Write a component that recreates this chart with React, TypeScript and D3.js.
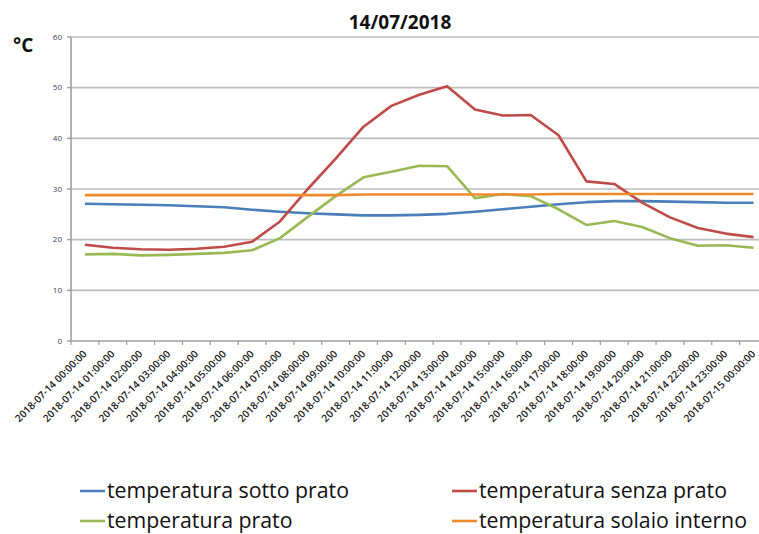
import React from "react";
import * as d3 from "d3";

const hours = d3.range(0, 25);
const categories = hours.map((h) =>
  h < 24
    ? `2018-07-14 ${String(h).padStart(2, "0")}:00:00`
    : `2018-07-15 00:00:00`
);

const sottoPrato = [27.1, 27.0, 26.9, 26.8, 26.6, 26.4, 25.9, 25.5, 25.2, 25.0, 24.8, 24.8, 24.9, 25.1, 25.5, 26.0, 26.5, 27.0, 27.4, 27.6, 27.6, 27.5, 27.4, 27.3, 27.3];
const senzaPrato = [19.0, 18.4, 18.1, 18.0, 18.2, 18.6, 19.6, 23.6, 30.0, 36.0, 42.3, 46.4, 48.6, 50.3, 45.7, 44.5, 44.6, 40.6, 31.5, 31.0, 27.3, 24.4, 22.3, 21.2, 20.5];
const prato = [17.1, 17.2, 16.9, 17.0, 17.2, 17.4, 17.9, 20.3, 24.5, 28.6, 32.3, 33.4, 34.6, 34.5, 28.2, 29.0, 28.6, 26.0, 22.9, 23.7, 22.5, 20.3, 18.8, 18.9, 18.4];
const solaioInterno = [28.8, 28.8, 28.8, 28.8, 28.8, 28.8, 28.8, 28.8, 28.8, 28.8, 28.9, 28.9, 28.9, 28.9, 28.9, 28.9, 28.9, 29.0, 29.0, 29.0, 29.0, 29.0, 29.0, 29.0, 29.0];

const yTicks = [0, 10, 20, 30, 40, 50, 60];

const seriesNames = [
  "temperatura sotto prato",
  "temperatura senza prato",
  "temperatura prato",
  "temperatura solaio interno",
];
const seriesColors = ["#4A7EBB", "#BE4B48", "#98B954", "#F08A2C"];
const seriesData = [sottoPrato, senzaPrato, prato, solaioInterno];

const W = 759;
const H = 534;
const left = 71;
const right = 767.5;
const top = 37;
const bottom = 341;

export default function App() {
  const x = d3.scaleBand<string>().domain(categories).range([left, right]);
  const y = d3.scaleLinear().domain([0, 60]).range([bottom, top]);
  const cx = (c: string) => (x(c) as number) + x.bandwidth() / 2;
  const line = d3
    .line<number>()
    .x((_, i) => cx(categories[i]))
    .y((d) => y(d));

  const tickXs = categories.map((c) => x(c) as number).concat([right]);

  const legendPos = [
    { lx: 80, ly: 491 },
    { lx: 452, ly: 491 },
    { lx: 80, ly: 521 },
    { lx: 452, ly: 521 },
  ];

  return (
    <svg
      width={W}
      height={H}
      style={{ position: "absolute", left: 0, top: 0, background: "#fff" }}
    >
      <rect x={0} y={0} width={W} height={H} fill="#fff" />
      {yTicks.slice(1).map((t) => (
        <line
          key={t}
          x1={left}
          x2={right}
          y1={y(t)}
          y2={y(t)}
          stroke="#BDBDBD"
          strokeWidth={1.6}
        />
      ))}
      <line x1={left} x2={left} y1={top} y2={bottom} stroke="#9E9E9E" strokeWidth={1.6} />
      <line x1={left} x2={right} y1={bottom} y2={bottom} stroke="#9E9E9E" strokeWidth={1.6} />
      {yTicks.map((t) => (
        <g key={t}>
          <line x1={left - 4} x2={left} y1={y(t)} y2={y(t)} stroke="#9E9E9E" strokeWidth={1.4} />
          <text
            x={left - 9}
            y={y(t)}
            dy="0.35em"
            textAnchor="end"
            fontFamily="Open Sans, sans-serif"
            fontSize={8}
            fill="#404050"
          >
            {t}
          </text>
        </g>
      ))}
      {tickXs.map((tx, i) => (
        <line key={i} x1={tx} x2={tx} y1={bottom} y2={bottom + 4} stroke="#9E9E9E" strokeWidth={1.2} />
      ))}
      {categories.map((c) => (
        <text
          key={c}
          transform={`translate(${cx(c)},${bottom + 11}) rotate(-45)`}
          textAnchor="end"
          dy="0.35em"
          fontFamily="Open Sans, sans-serif"
          fontSize={10.2}
          fontWeight={600}
          fill="#222"
        >
          {c}
        </text>
      ))}
      {seriesData.map((d, si) => (
        <path
          key={si}
          d={line(d) as string}
          fill="none"
          stroke={seriesColors[si]}
          strokeWidth={2.6}
          strokeLinejoin="round"
        />
      ))}
      <text
        x={400}
        y={29}
        textAnchor="middle"
        fontFamily="Open Sans, sans-serif"
        fontWeight={700}
        fontSize={19}
        fill="#111"
      >
        14/07/2018
      </text>
      <text
        x={13}
        y={52}
        fontFamily="Open Sans, sans-serif"
        fontWeight={700}
        fontSize={19}
        fill="#111"
      >
        °C
      </text>
      {seriesNames.map((n, i) => (
        <g key={n}>
          <line
            x1={legendPos[i].lx}
            x2={legendPos[i].lx + 25}
            y1={legendPos[i].ly}
            y2={legendPos[i].ly}
            stroke={seriesColors[i]}
            strokeWidth={2.6}
          />
          <text
            x={legendPos[i].lx + 27}
            y={legendPos[i].ly + 7}
            fontFamily="Open Sans, sans-serif"
            fontSize={21.3}
            fill="#111"
          >
            {n}
          </text>
        </g>
      ))}
    </svg>
  );
}
